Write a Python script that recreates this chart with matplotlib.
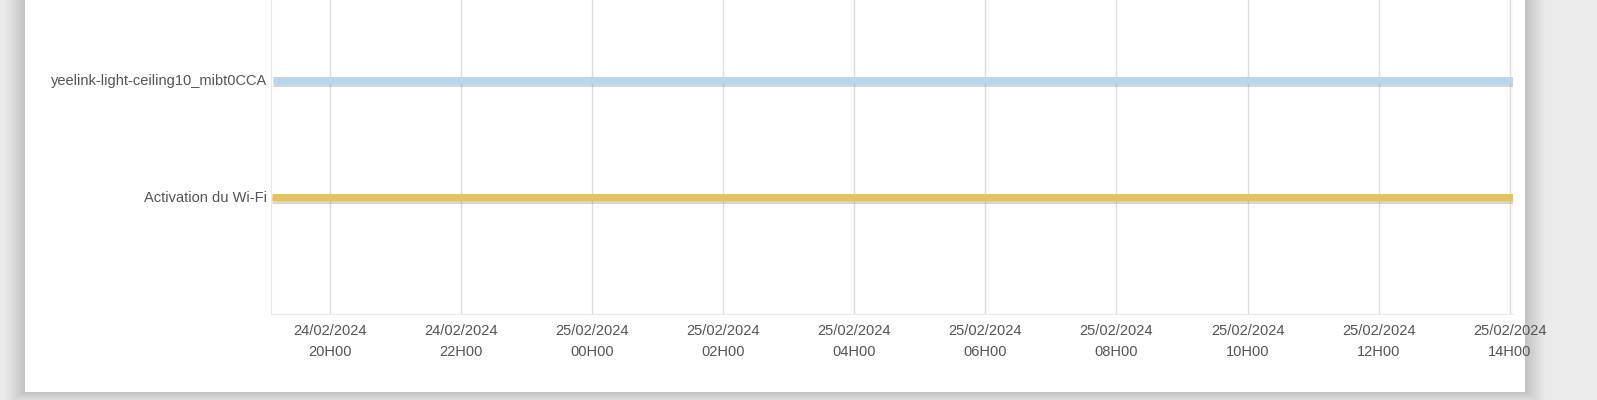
import datetime as dt

import matplotlib
matplotlib.use('Agg')
import matplotlib.pyplot as plt
import matplotlib.dates as mdates
import matplotlib.patheffects as pe
from matplotlib.patches import Rectangle

plt.rcParams['font.family'] = ['Liberation Sans', 'DejaVu Sans']

# timeline data
labels = ['Activation du Wi-Fi', 'yeelink-light-ceiling10_mibt0CCA']
starts = [dt.datetime(2024, 2, 24, 19, 7), dt.datetime(2024, 2, 24, 19, 8)]
ends = [dt.datetime(2024, 2, 25, 14, 3), dt.datetime(2024, 2, 25, 14, 3)]
colors = ['#e5c35c', '#b6d6f4']

x_min = dt.datetime(2024, 2, 24, 19, 6)
x_max = dt.datetime(2024, 2, 25, 14, 3)
tick_times = [dt.datetime(2024, 2, 24, 20) + dt.timedelta(hours=2 * i) for i in range(10)]

W, H = 1597, 400
fig = plt.figure(figsize=(W / 100, H / 100), dpi=100)
fig.patch.set_facecolor('#ebebeb')

# card with a soft shadow
card_l, card_r, card_b = 25, 1525, 392
for i in range(20, 0, -1):
    fig.patches.append(Rectangle(((card_l - i) / W, (H - card_b - i * 0.6) / H),
                                 (card_r - card_l + i * 2) / W, 1.2,
                                 transform=fig.transFigure, facecolor='black',
                                 alpha=0.008, edgecolor='none', zorder=0))
fig.patches.append(Rectangle((card_l / W, (H - card_b) / H), (card_r - card_l) / W, 1.2,
                             transform=fig.transFigure, facecolor='white',
                             edgecolor='none', zorder=1))

ax_l, ax_r, ax_b = 271, 1513, 314
ax = fig.add_axes([ax_l / W, (H - ax_b) / H, (ax_r - ax_l) / W, ax_b / H])
ax.set_facecolor('none')
ax.set_zorder(2)

for i, (lab, s, e, c) in enumerate(zip(labels, starts, ends, colors)):
    ax.plot([s, e], [i + 1, i + 1], color=c, lw=5, solid_capstyle='butt', zorder=3,
            path_effects=[pe.SimpleLineShadow(offset=(0, -2.2), shadow_color='#888888', alpha=0.35),
                          pe.Normal()])

ax.set_xlim(x_min, x_max)
ax.set_ylim(0, ax_b / 117)
ax.set_yticks([1, 2])
ax.set_yticklabels(labels)
ax.set_xticks(tick_times)
ax.xaxis.set_major_formatter(mdates.DateFormatter('%d/%m/%Y\n%HH%M'))
ax.tick_params(axis='both', length=0, colors='#555555', labelsize=10.5)
ax.tick_params(axis='x', pad=7)
ax.tick_params(axis='y', pad=3)
for t in ax.get_xticklabels():
    t.set_linespacing(1.65)
ax.grid(axis='x', color='#dcdcdc', lw=1)
ax.set_axisbelow(True)
for sp in ['top', 'right']:
    ax.spines[sp].set_visible(False)
ax.spines['left'].set_color('#e3eaef')
ax.spines['bottom'].set_color('#e3eaef')
ax.axvline(x_max, color='#e3eaef', lw=1)

fig.savefig('out.png', dpi=100, facecolor=fig.get_facecolor())
